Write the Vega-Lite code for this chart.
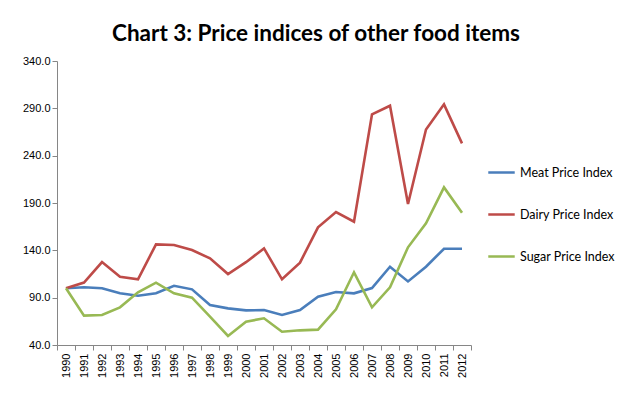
{
  "$schema": "https://vega.github.io/schema/vega-lite/v6.json",
  "autosize": {"type": "none"},
  "width": 414,
  "height": 284,
  "padding": {"left": 57, "top": 61, "right": 162, "bottom": 48},
  "background": "white",
  "title": {
    "text": "Chart 3: Price indices of other food items",
    "font": "Lato",
    "fontSize": 22.5,
    "fontWeight": "bold",
    "color": "#000000",
    "anchor": "middle",
    "dx": 52,
    "offset": 10
  },
  "data": {
    "values": [
      {"year": "1990", "Meat Price Index": 100, "Dairy Price Index": 100, "Sugar Price Index": 100},
      {"year": "1991", "Meat Price Index": 101, "Dairy Price Index": 106, "Sugar Price Index": 71},
      {"year": "1992", "Meat Price Index": 100, "Dairy Price Index": 127.6, "Sugar Price Index": 71.7},
      {"year": "1993", "Meat Price Index": 94.6, "Dairy Price Index": 112.1, "Sugar Price Index": 79.8},
      {"year": "1994", "Meat Price Index": 92, "Dairy Price Index": 109.4, "Sugar Price Index": 95.6},
      {"year": "1995", "Meat Price Index": 94.6, "Dairy Price Index": 146.3, "Sugar Price Index": 105.8},
      {"year": "1996", "Meat Price Index": 102.6, "Dairy Price Index": 145.6, "Sugar Price Index": 94.6},
      {"year": "1997", "Meat Price Index": 98.8, "Dairy Price Index": 140.3, "Sugar Price Index": 90},
      {"year": "1998", "Meat Price Index": 82.2, "Dairy Price Index": 131.5, "Sugar Price Index": 69.9},
      {"year": "1999", "Meat Price Index": 78.7, "Dairy Price Index": 115, "Sugar Price Index": 49.5},
      {"year": "2000", "Meat Price Index": 76.6, "Dairy Price Index": 127.5, "Sugar Price Index": 64.6},
      {"year": "2001", "Meat Price Index": 76.9, "Dairy Price Index": 142.1, "Sugar Price Index": 68.2},
      {"year": "2002", "Meat Price Index": 71.7, "Dairy Price Index": 109.4, "Sugar Price Index": 54},
      {"year": "2003", "Meat Price Index": 76.9, "Dairy Price Index": 127, "Sugar Price Index": 55.5},
      {"year": "2004", "Meat Price Index": 91, "Dairy Price Index": 164.3, "Sugar Price Index": 56.2},
      {"year": "2005", "Meat Price Index": 96, "Dairy Price Index": 180.4, "Sugar Price Index": 77.7},
      {"year": "2006", "Meat Price Index": 94.6, "Dairy Price Index": 170.2, "Sugar Price Index": 116.8},
      {"year": "2007", "Meat Price Index": 100.2, "Dairy Price Index": 283.6, "Sugar Price Index": 79.8},
      {"year": "2008", "Meat Price Index": 122.7, "Dairy Price Index": 292.7, "Sugar Price Index": 100.9},
      {"year": "2009", "Meat Price Index": 107.2, "Dairy Price Index": 188.9, "Sugar Price Index": 143.2},
      {"year": "2010", "Meat Price Index": 122.7, "Dairy Price Index": 267.7, "Sugar Price Index": 168.5},
      {"year": "2011", "Meat Price Index": 141.7, "Dairy Price Index": 294.2, "Sugar Price Index": 206.5},
      {"year": "2012", "Meat Price Index": 141.7, "Dairy Price Index": 253, "Sugar Price Index": 179.7}
    ]
  },
  "transform": [
    {"fold": ["Meat Price Index", "Dairy Price Index", "Sugar Price Index"], "as": ["series", "value"]}
  ],
  "mark": {"type": "line", "strokeWidth": 2.6, "interpolate": "linear"},
  "encoding": {
    "x": {
      "field": "year",
      "type": "ordinal",
      "bandPosition": 0.5,
      "scale": {"type": "band", "paddingInner": 0, "paddingOuter": 0},
      "axis": {
        "title": null,
        "labelAngle": -90,
        "labelFont": "Liberation Sans",
        "labelFontSize": 11,
        "labelColor": "#000000",
        "tickBand": "extent",
        "tickSize": 5,
        "tickColor": "#868686",
        "domainColor": "#868686",
        "labelPadding": 3,
        "grid": false
      }
    },
    "y": {
      "field": "value",
      "type": "quantitative",
      "scale": {"domain": [40, 340], "nice": false, "zero": false},
      "axis": {
        "title": null,
        "values": [40, 90, 140, 190, 240, 290, 340],
        "format": ".1f",
        "labelFont": "Liberation Sans",
        "labelFontSize": 11,
        "labelColor": "#000000",
        "tickSize": 5,
        "tickColor": "#868686",
        "domainColor": "#868686",
        "grid": false
      }
    },
    "color": {
      "field": "series",
      "type": "nominal",
      "scale": {
        "domain": ["Meat Price Index", "Dairy Price Index", "Sugar Price Index"],
        "range": ["#4A7EBB", "#BE4B48", "#98B954"]
      },
      "legend": {
        "title": null,
        "orient": "none",
        "legendX": 430,
        "legendY": 97,
        "symbolType": "stroke",
        "symbolSize": 700,
        "symbolStrokeWidth": 2.5,
        "labelFont": "Lato",
        "labelFontSize": 12.5,
        "labelColor": "#000000",
        "rowPadding": 21,
        "labelOffset": 4
      }
    }
  },
  "config": {"view": {"stroke": null}}
}
